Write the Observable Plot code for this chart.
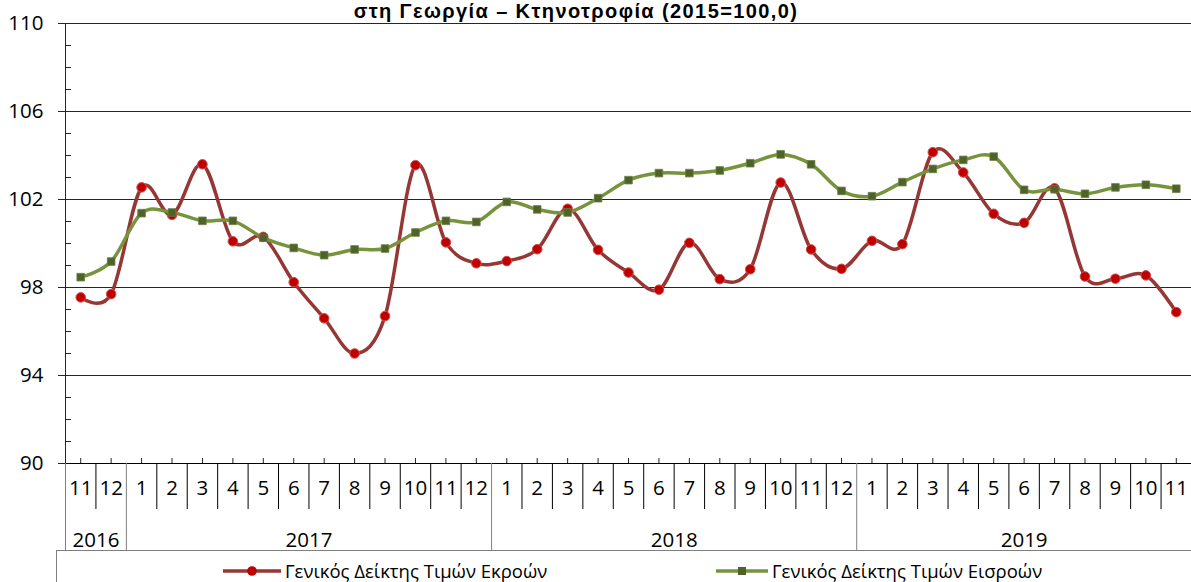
<!DOCTYPE html>
<html><head><meta charset="utf-8">
<script src="https://cdn.jsdelivr.net/npm/d3@7"></script>
<script src="https://cdn.jsdelivr.net/npm/@observablehq/plot@0.6"></script>
<style>
body{margin:0;width:1191px;height:582px;overflow:hidden;position:relative;background:#fff;font-family:"Open Sans",sans-serif;}
#title{position:absolute;left:0;width:1152px;top:0;line-height:normal;text-align:center;font-family:"Liberation Sans",Arial,sans-serif;font-weight:bold;font-size:20px;letter-spacing:1.4px;color:#000;white-space:nowrap;}
#chart{position:absolute;left:0;top:0;}
#legend{position:absolute;left:56px;top:550px;width:1135px;height:40px;border-top:1px solid #7f7f7f;border-left:1px solid #7f7f7f;}
.item{position:absolute;top:9px;display:flex;align-items:center;font-size:18.5px;line-height:22px;color:#000;white-space:nowrap;}
.item svg{flex:none;margin-right:4px;display:block;}
</style></head>
<body>
<div id="chart"></div>
<div id="title">στη Γεωργία – Κτηνοτροφία (2015=100,0)</div>
<div id="legend"></div>
<script>
const months = [11,12,1,2,3,4,5,6,7,8,9,10,11,12,1,2,3,4,5,6,7,8,9,10,11,12,1,2,3,4,5,6,7,8,9,10,11];
const yearLabels = ["2016","2017","2018","2019"];
const outputIndex = [97.55,97.7,102.55,101.3,103.6,100.1,100.3,98.24,96.6,95.0,96.7,103.56,100.05,99.1,99.2,99.74,101.58,99.71,98.68,97.9,100.03,98.38,98.83,102.77,99.73,98.85,100.12,99.97,104.15,103.23,101.35,100.94,102.51,98.5,98.4,98.55,96.88];
const inputIndex = [98.47,99.18,101.38,101.41,101.03,101.03,100.26,99.8,99.47,99.73,99.77,100.5,101.03,100.98,101.89,101.55,101.41,102.06,102.88,103.2,103.2,103.32,103.65,104.05,103.6,102.39,102.15,102.79,103.39,103.8,103.95,102.44,102.47,102.26,102.55,102.67,102.49];
const seriesNames = ["Γενικός Δείκτης Τιμών Εκροών","Γενικός Δείκτης Τιμών Εισροών"];
const yMajor = [90,94,98,102,106,110];
const yGrid = [94,98,102,106,110];

const redLine = "#953735", redDot = "#C00000", greenLine = "#77933C", greenDot = "#4F6228";

const table = months.map((m, i) => ({i, month: m, out: outputIndex[i], inp: inputIndex[i]}));
const idx = table.map(d => d.i);
const starts = [0, ...idx.filter(i => months[i] === 1 && i > 0)];
const years = starts.map((s, k) => {
  const e = k + 1 < starts.length ? starts[k + 1] - 1 : idx.length - 1;
  return {label: yearLabels[k], center: (s + e) / 2, start: s};
});
const yearBounds = [...years.map(y => y.start - 0.5), idx.length - 0.5];
const monthBounds = d3.range(0, idx.length + 1).map(k => k - 0.5).filter(b => !yearBounds.includes(b));
const yearByCenter = new Map(years.map(y => [y.center, y.label]));
const yMinor = d3.range(90, 111).filter(v => !yMajor.includes(v));

const chart = Plot.plot({
  width: 1191, height: 582,
  marginLeft: 65, marginRight: 0, marginTop: 23, marginBottom: 119,
  style: {fontFamily: "Open Sans, sans-serif", background: "transparent", overflow: "visible"},
  x: {type: "linear", domain: [-0.5, idx.length - 0.5]},
  y: {domain: [90, 110]},
  marks: [
    Plot.ruleY(yGrid, {stroke: "#262626", strokeWidth: 1}),
    Plot.axisY({ticks: yMajor, tickSize: 7, tickPadding: 15, fontSize: 20.5, fill: "#000", stroke: "#262626", tickFormat: d => String(d), label: null}),
    Plot.axisY({ticks: yMinor, tickSize: -6, tickFormat: () => "", stroke: "#262626", label: null}),
    Plot.ruleX([-0.5], {stroke: "#262626"}),
    Plot.ruleY([90], {stroke: "#000"}),
    Plot.axisX({ticks: monthBounds, tickSize: 46, tickFormat: () => "", stroke: "#000", label: null}),
    Plot.axisX({ticks: yearBounds, tickSize: 87, tickFormat: () => "", stroke: "#7f7f7f", label: null}),
    Plot.axisX({ticks: idx, tickSize: -5, tickFormat: () => "", stroke: "#262626", label: null}),
    Plot.axisX({ticks: idx, tickSize: 0, tickPadding: 17, fontSize: 20.5, fill: "#000", tickFormat: i => String(months[i]), label: null}),
    Plot.axisX({ticks: years.map(y => y.center), tickSize: 0, tickPadding: 69, fontSize: 20.5, fill: "#000", tickFormat: c => yearByCenter.get(c), label: null}),
    Plot.line(table, {x: "i", y: "out", stroke: redLine, strokeWidth: 3.5, curve: "cardinal"}),
    Plot.line(table, {x: "i", y: "inp", stroke: greenLine, strokeWidth: 3.5, curve: "cardinal"}),
    Plot.dot(table, {x: "i", y: "out", r: 4.8, fill: redDot, stroke: "#d05050", strokeWidth: 1, symbol: "circle"}),
    Plot.dot(table, {x: "i", y: "inp", r: 4.3, fill: greenDot, stroke: "#6a7f45", strokeWidth: 0.8, symbol: "square"})
  ]
});
document.getElementById("chart").appendChild(chart);

const legend = document.getElementById("legend");
const items = [
  {name: seriesNames[0], line: redLine, dot: redDot, shape: "circle", left: 166, w: 58},
  {name: seriesNames[1], line: greenLine, dot: greenDot, shape: "square", left: 659, w: 52}
];
for (const it of items) {
  const div = document.createElement("div");
  div.className = "item";
  div.style.left = it.left + "px";
  const c = it.w / 2;
  const marker = it.shape === "circle"
    ? `<circle cx="${c}" cy="6" r="4.8" fill="${it.dot}"/>`
    : `<rect x="${c - 4}" y="2" width="8" height="8" fill="${it.dot}"/>`;
  div.innerHTML = `<svg width="${it.w}" height="12" viewBox="0 0 ${it.w} 12"><line x1="0" y1="6" x2="${it.w}" y2="6" stroke="${it.line}" stroke-width="3.5"/>${marker}</svg><span>${it.name}</span>`;
  legend.appendChild(div);
}
</script>
</body></html>
